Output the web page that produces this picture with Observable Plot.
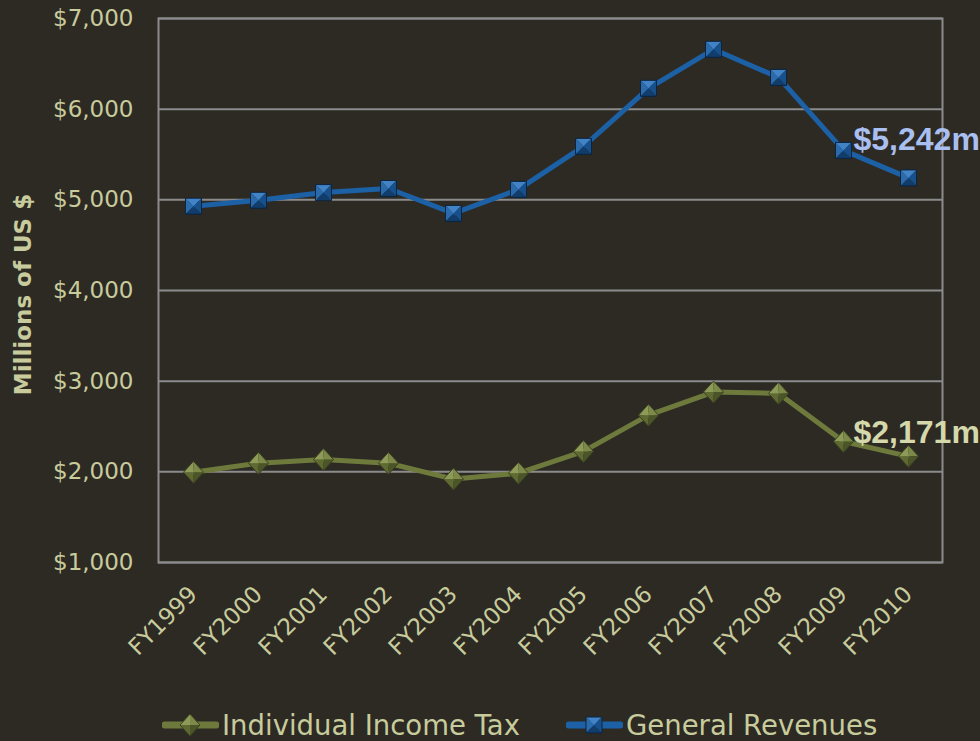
<!DOCTYPE html>
<html><head><meta charset="utf-8">
<script src="https://cdn.jsdelivr.net/npm/d3@7"></script>
<script src="https://cdn.jsdelivr.net/npm/@observablehq/plot@0.6"></script>
<style>
html,body{margin:0;padding:0;background:#2d2a24;}
body{width:980px;height:741px;overflow:hidden;position:relative;font-family:"DejaVu Sans",sans-serif;}
#chart svg{display:block;}
.leg{position:absolute;display:flex;align-items:center;color:#c8cc9c;font-size:27.5px;line-height:30px;font-family:"DejaVu Sans",sans-serif;white-space:nowrap;}
.leg svg{display:block;margin-right:3px;}
</style></head><body>
<div id="chart"></div>
<div class="leg" id="leg0"></div>
<div class="leg" id="leg1"></div>
<script>
const years = ["FY1999","FY2000","FY2001","FY2002","FY2003","FY2004","FY2005","FY2006","FY2007","FY2008","FY2009","FY2010"];
const incomeTax = [1995, 2095, 2135, 2095, 1920, 1985, 2225, 2625, 2880, 2865, 2335, 2171];
const generalRevenues = [4930, 4995, 5080, 5125, 4850, 5115, 5590, 6230, 6660, 6350, 5545, 5242];
const yTicks = [1000, 2000, 3000, 4000, 5000, 6000, 7000];
const seriesNames = ["Individual Income Tax", "General Revenues"];
const yTitle = "Millions of US $";

const bg = "#2d2a24", textColor = "#c8cc9c", gridColor = "#8c8c8c";
const blue = "#1c60a6", olive = "#6e7a3c";

const itData = years.map((x, i) => ({x, y: incomeTax[i]}));
const grData = years.map((x, i) => ({x, y: generalRevenues[i]}));

const poly = pts => ({draw(ctx) { ctx.moveTo(pts[0][0], pts[0][1]); for (const p of pts.slice(1)) ctx.lineTo(p[0], p[1]); ctx.closePath(); }});
const S = 8;
const squareFacets = [
  {pts: [[-S,-S],[S,-S],[0,0]], fill: "#4283c6"},
  {pts: [[-S,-S],[-S,S],[0,0]], fill: "#2b6aab"},
  {pts: [[S,-S],[S,S],[0,0]], fill: "#17508a"},
  {pts: [[-S,S],[S,S],[0,0]], fill: "#103d6b"}
];
const squareOutline = [[-S,-S],[S,-S],[S,S],[-S,S]];
const W = 10, H = 11;
const diamondFacets = [
  {pts: [[0,-H],[-W,0],[0,0]], fill: "#8e9b58"},
  {pts: [[0,-H],[W,0],[0,0]], fill: "#7c8949"},
  {pts: [[-W,0],[0,H],[0,0]], fill: "#5f6a33"},
  {pts: [[W,0],[0,H],[0,0]], fill: "#4b5527"}
];
const diamondOutline = [[0,-H],[W,0],[0,H],[-W,0]];

const markerMarks = (data, facets, outline, edge) => [
  ...facets.map(f => Plot.dot(data, {x: "x", y: "y", symbol: poly(f.pts), fill: f.fill, stroke: "none"})),
  Plot.dot(data, {x: "x", y: "y", symbol: poly(outline), fill: "none", stroke: edge, strokeWidth: 1})
];

const fmt = d3.format(",");
const n = years.length;

const chart = Plot.plot({
  width: 980, height: 700,
  marginTop: 18, marginBottom: 138, marginLeft: 158, marginRight: 38,
  style: {background: bg, color: textColor, fontFamily: "DejaVu Sans", fontSize: "23px", overflow: "visible"},
  x: {type: "point", domain: years, padding: 0.5},
  y: {domain: [1000, 7000]},
  marks: [
    Plot.gridY(yTicks, {stroke: gridColor, strokeOpacity: 1, strokeWidth: 2}),
    Plot.frame({stroke: gridColor, strokeWidth: 2}),
    Plot.axisY(yTicks, {tickSize: 0, tickPadding: 25, tickFormat: d => "$" + fmt(d), label: null, fill: textColor}),
    Plot.axisX({tickSize: 0, tickRotate: -45, tickPadding: 28, label: null, fill: textColor}),
    Plot.text([yTitle], {frameAnchor: "left", textAnchor: "middle", dx: -135, dy: 4, rotate: -90, fontWeight: "bold", fontSize: 23, fill: textColor}),
    Plot.line(itData, {x: "x", y: "y", stroke: olive, strokeWidth: 5}),
    Plot.line(grData, {x: "x", y: "y", stroke: blue, strokeWidth: 5}),
    ...markerMarks(itData, diamondFacets, diamondOutline, "#3a4220"),
    ...markerMarks(grData, squareFacets, squareOutline, "#0b2440"),
    Plot.text([{x: years[n-2], y: generalRevenues[n-2], t: "$" + fmt(generalRevenues[n-1]) + "m"}], {x: "x", y: "y", text: "t", textAnchor: "start", lineAnchor: "bottom", dx: 10, dy: 0, fontSize: 32, fontWeight: "bold", fontFamily: "Liberation Sans", fill: "#a9bff0"}),
    Plot.text([{x: years[n-2], y: incomeTax[n-2], t: "$" + fmt(incomeTax[n-1]) + "m"}], {x: "x", y: "y", text: "t", textAnchor: "start", lineAnchor: "bottom", dx: 10, dy: 2, fontSize: 32, fontWeight: "bold", fontFamily: "Liberation Sans", fill: "#d4d8ab"})
  ]
});
document.getElementById("chart").appendChild(chart);

function legendSvg(color, facets, outline, edge) {
  const path = pts => "M" + pts.map(p => (p[0] + 28) + "," + (p[1] + 15)).join("L") + "Z";
  return `<svg width="57" height="30"><line x1="3" y1="15" x2="54" y2="15" stroke="${color}" stroke-width="7" stroke-linecap="round"/>` +
    facets.map(f => `<path d="${path(f.pts)}" fill="${f.fill}"/>`).join("") +
    `<path d="${path(outline)}" fill="none" stroke="${edge}" stroke-width="1"/></svg>`;
}
const l0 = document.getElementById("leg0");
l0.style.left = "162px"; l0.style.top = "710px";
l0.innerHTML = legendSvg(olive, diamondFacets, diamondOutline, "#3a4220") + `<span>${seriesNames[0]}</span>`;
const l1 = document.getElementById("leg1");
l1.style.left = "566px"; l1.style.top = "710px";
l1.innerHTML = legendSvg(blue, squareFacets, squareOutline, "#0b2440") + `<span>${seriesNames[1]}</span>`;
</script>
</body></html>
